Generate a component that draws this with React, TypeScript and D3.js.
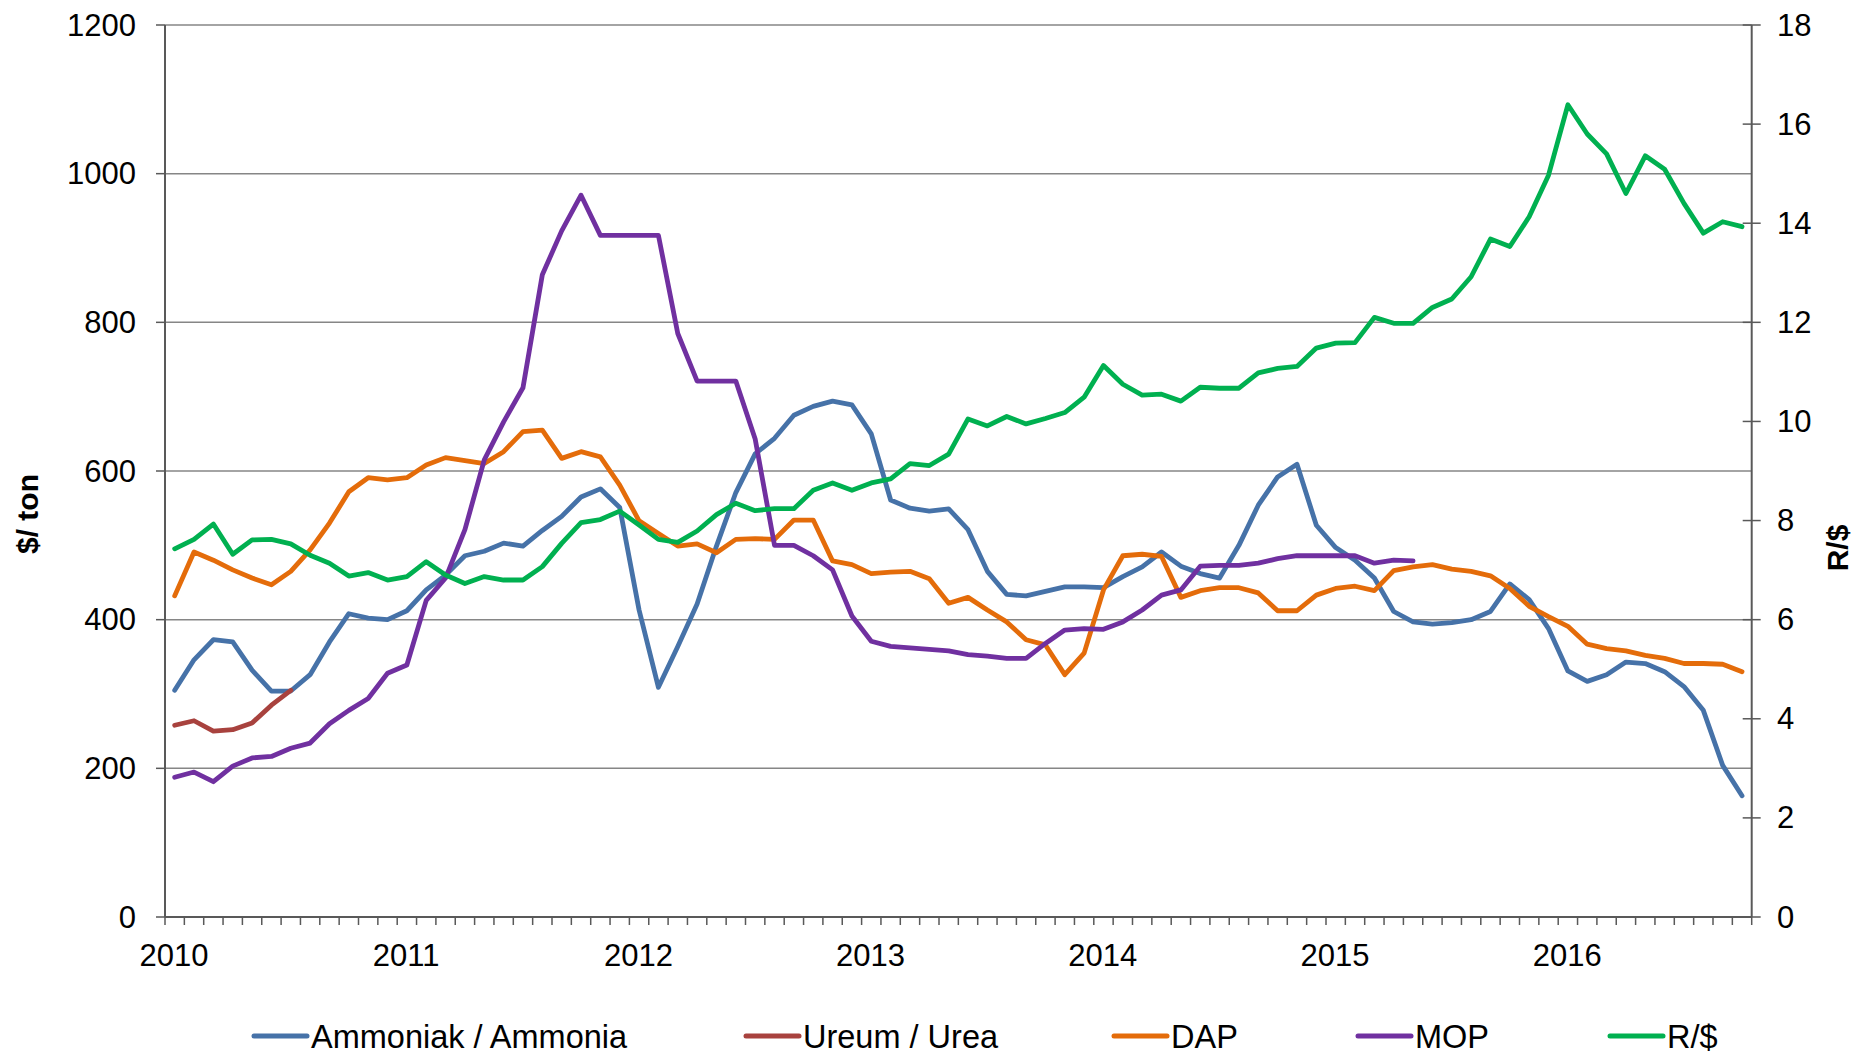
import * as d3 from 'd3';
import { useEffect } from 'react';

// monthly prices, Jan 2010 .. Oct 2016
const years = ['2010', '2011', '2012', '2013', '2014', '2015', '2016'];
const monthCount = 82;

const ammonia = [
  305, 346, 373, 370, 332, 304, 304, 326, 370, 408, 402, 400,
  412, 440, 460, 486, 492, 503, 499, 520, 539, 565, 576, 551,
  413, 309, 364, 421, 499, 571, 623, 644, 675, 687, 694, 689,
  650, 561, 550, 546, 549, 521, 465, 434, 432, 438, 444, 444,
  443, 458, 471, 491, 472, 462, 456, 500, 554, 592, 609, 527,
  497, 480, 456, 411, 397, 394, 396, 400, 411, 448, 427, 388,
  331, 317, 326, 343, 341, 330, 310, 278, 204, 163,
];

const urea = [258, 264, 250, 252, 261, 285, 305];

const dap = [
  432, 491, 480, 467, 456, 447, 465, 494, 530, 572, 591, 588,
  591, 608, 618, 614, 610, 626, 653, 655, 617, 626, 619, 581,
  533, 516, 499, 502, 490, 508, 509, 508, 534, 534, 479, 474,
  462, 464, 465, 455, 422, 430, 413, 397, 373, 366, 326, 355,
  440, 486, 488, 485, 430, 439, 443, 443, 436, 412, 412, 433,
  442, 445, 439, 466, 471, 474, 468, 465, 459, 442, 418, 404,
  391, 367, 361, 358, 352, 348, 341, 341, 340, 330,
];

const mop = [
  188, 195, 182, 203, 214, 216, 227, 234, 260, 278, 294, 328,
  339, 426, 456, 521, 615, 666, 712, 864, 923, 971, 917, 917,
  917, 917, 785, 721, 721, 721, 643, 500, 500, 486, 467, 405,
  371, 364, 362, 360, 358, 353, 351, 348, 348, 368, 386, 388,
  387, 397, 413, 433, 440, 472, 473, 473, 476, 482, 486, 486,
  486, 486, 476, 480, 479,
];

const randDollar = [
  7.43, 7.62, 7.93, 7.32, 7.61, 7.62, 7.53, 7.30, 7.14, 6.88, 6.95, 6.80,
  6.87, 7.17, 6.90, 6.73, 6.87, 6.80, 6.80, 7.07, 7.54, 7.96, 8.02, 8.19,
  7.91, 7.62, 7.56, 7.79, 8.12, 8.35, 8.20, 8.24, 8.24, 8.61, 8.76, 8.61,
  8.76, 8.84, 9.15, 9.11, 9.34, 10.05, 9.91, 10.10, 9.95, 10.06, 10.18, 10.49,
  11.13, 10.75, 10.53, 10.55, 10.41, 10.69, 10.67, 10.67, 10.98, 11.07, 11.11, 11.48,
  11.58, 11.59, 12.10, 11.98, 11.98, 12.30, 12.47, 12.92, 13.68, 13.53, 14.13, 14.97,
  16.39, 15.80, 15.40, 14.60, 15.36, 15.09, 14.40, 13.80, 14.03, 13.93,
];

const leftTicks = [0, 200, 400, 600, 800, 1000, 1200];
const rightTicks = [0, 2, 4, 6, 8, 10, 12, 14, 16, 18];

const W = 1874;
const H = 1060;
const plot = { left: 165, right: 1751.7, top: 25, bottom: 917 };
const FONT = '"Liberation Sans", Arial, sans-serif';
const AXIS_COLOR = '#595959';
const GRID_COLOR = '#868686';

const x = d3.scaleLinear().domain([0, monthCount]).range([plot.left, plot.right]);
const yLeft = d3.scaleLinear().domain([0, 1200]).range([plot.bottom, plot.top]);
const yRight = d3.scaleLinear().domain([0, 18]).range([plot.bottom, plot.top]);

const series = [
  { name: 'Ammoniak / Ammonia', color: '#4672A8', values: ammonia, scale: yLeft, legendX: 254 },
  { name: 'Ureum / Urea', color: '#A8423E', values: urea, scale: yLeft, legendX: 746 },
  { name: 'DAP', color: '#E46C0A', values: dap, scale: yLeft, legendX: 1114 },
  { name: 'MOP', color: '#7030A0', values: mop, scale: yLeft, legendX: 1358 },
  { name: 'R/$', color: '#00B050', values: randDollar, scale: yRight, legendX: 1610 },
];

export default function App() {
  useEffect(() => {
    document.body.style.margin = '0';
  }, []);

  const makeLine = (scale: d3.ScaleLinear<number, number>) =>
    d3.line<number>()
      .x((_, i) => x(i + 0.5))
      .y((d) => scale(d));

  return (
    <svg width={W} height={H} style={{ display: 'block', background: '#fff' }} fontFamily={FONT}>
      {/* gridlines */}
      {leftTicks.filter((t) => t > 0).map((t) => (
        <line key={'g' + t} x1={plot.left} x2={plot.right} y1={yLeft(t)} y2={yLeft(t)}
          stroke={GRID_COLOR} strokeWidth={1.5} />
      ))}

      {/* series */}
      {series.map((s) => (
        <path key={s.name} d={makeLine(s.scale)(s.values) || ''} fill="none" stroke={s.color}
          strokeWidth={4.8} strokeLinejoin="round" strokeLinecap="round" />
      ))}

      {/* left axis */}
      <line x1={plot.left} x2={plot.left} y1={plot.top} y2={plot.bottom} stroke={AXIS_COLOR} strokeWidth={2} />
      {leftTicks.map((t) => (
        <g key={'l' + t}>
          <line x1={plot.left - 9} x2={plot.left} y1={yLeft(t)} y2={yLeft(t)} stroke={AXIS_COLOR} strokeWidth={1.5} />
          <text x={136} y={yLeft(t)} textAnchor="end" dominantBaseline="central" fontSize={31} fill="#000">{t}</text>
        </g>
      ))}

      {/* right axis */}
      <line x1={plot.right} x2={plot.right} y1={plot.top} y2={plot.bottom} stroke={AXIS_COLOR} strokeWidth={2} />
      {rightTicks.map((t) => (
        <g key={'r' + t}>
          <line x1={plot.right - 9} x2={plot.right + 9} y1={yRight(t)} y2={yRight(t)} stroke={AXIS_COLOR} strokeWidth={1.5} />
          <text x={1777} y={yRight(t)} textAnchor="start" dominantBaseline="central" fontSize={31} fill="#000">{t}</text>
        </g>
      ))}

      {/* bottom axis */}
      <line x1={plot.left} x2={plot.right} y1={plot.bottom} y2={plot.bottom} stroke={AXIS_COLOR} strokeWidth={2} />
      {d3.range(monthCount + 1).map((m) => (
        <line key={'m' + m} x1={x(m)} x2={x(m)} y1={plot.bottom} y2={plot.bottom + 8} stroke={AXIS_COLOR} strokeWidth={1.5} />
      ))}
      {years.map((yr, k) => (
        <text key={yr} x={x(k * 12) + 9} y={966} textAnchor="middle" fontSize={31} fill="#000">{yr}</text>
      ))}

      {/* axis titles */}
      <text transform="translate(38,514) rotate(-90)" textAnchor="middle" fontSize={30} fontWeight="bold" fill="#000">$/ ton</text>
      <text transform="translate(1848,548) rotate(-90)" textAnchor="middle" fontSize={30} fontWeight="bold" fill="#000">R/$</text>

      {/* legend */}
      {series.map((s) => (
        <g key={'lg' + s.name}>
          <line x1={s.legendX} x2={s.legendX + 53} y1={1036} y2={1036} stroke={s.color} strokeWidth={5} strokeLinecap="round" />
          <text x={s.legendX + 57} y={1037} dominantBaseline="central" fontSize={32.5} fill="#000">{s.name}</text>
        </g>
      ))}
    </svg>
  );
}
